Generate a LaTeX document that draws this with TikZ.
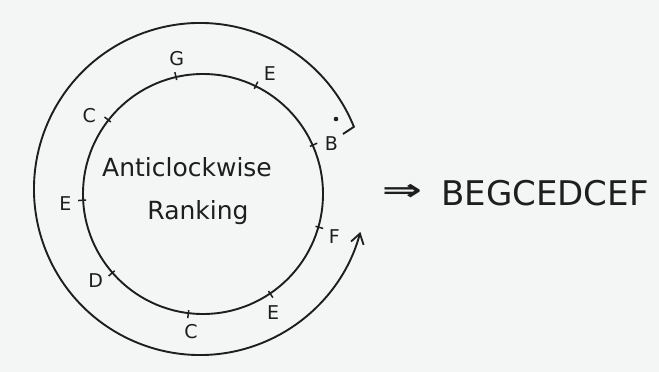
\documentclass[tikz,border=0pt]{standalone}
\usepackage{fontspec}
\setmainfont{DejaVu Sans}
\usetikzlibrary{arrows.meta,calc}
\definecolor{paper}{RGB}{244,246,245}
\definecolor{ink}{RGB}{30,30,30}
\tikzset{
  x=1pt,y=1pt,
  ring/.style={draw=ink,line width=1.9pt},
  tickmark/.style={draw=ink,line width=1.5pt},
  lbl/.style={font=\fontsize{19}{21}\selectfont,text=ink,inner sep=0pt},
  mid/.style={font=\fontsize{25}{28}\selectfont,text=ink,inner sep=0pt},
  big/.style={font=\fontsize{34}{38}\selectfont,text=ink,inner sep=0pt},
}
\begin{document}
\begin{tikzpicture}
\useasboundingbox[fill=paper] (0,0) rectangle (659,372);
\coordinate (ic) at (203,178);
\coordinate (oc) at (200,183);
% inner circle
\draw[ring] (ic) circle[radius=120];
% outer arc with hook and arrow
\coordinate (ostart) at ($(oc)+(22:166)$);
\coordinate (hook) at (343,238);
\draw[ring,-{Straight Barb[length=10pt,width=13pt,line width=1.8pt]}] (hook) -- (ostart) arc[start angle=22,end angle=345,radius=166];
\fill[ink] (336,253) circle[radius=2.3];
% ticks and labels
\foreach \ta/\la/\txt/\nm in {103/101/G/g, 64/61/E/e1, 24/21.6/B/b, -16/-18/F/f, -56/-59.5/E/e2, -97/-95/C/c1, -139/-141/D/d, 183/184/E/e3, 142/145.5/C/c2}{
  \coordinate (t\nm a) at ($(ic)+(\ta:117)$);
  \coordinate (t\nm b) at ($(ic)+(\ta:125)$);
  \draw[tickmark] (t\nm a) -- (t\nm b);
  \node[lbl] (\nm) at ($(ic)+(\la:138)$) {\txt};
}
\node[mid] (anti) at (187,205) {Anticlockwise};
\node[mid] (rank) at (198,159) {Ranking};
\node[inner sep=0pt,text=ink,font=\fontsize{30}{32}\selectfont\bfseries] (imp) at (402,180) {\scalebox{1.6}[1]{⇒}};
\node[big] (seq) at (545,179) {BEGCEDCEF};
\end{tikzpicture}
\end{document}
